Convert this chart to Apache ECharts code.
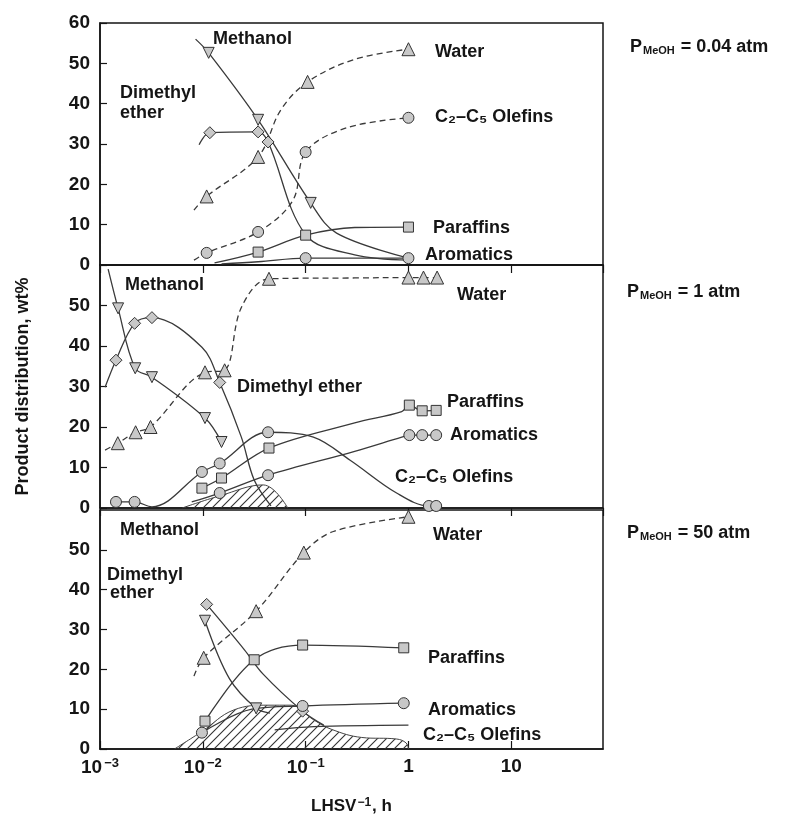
<!DOCTYPE html>
<html><head><meta charset="utf-8">
<script src="https://cdn.jsdelivr.net/npm/echarts@6/dist/echarts.min.js"></script>
<style>html,body{margin:0;padding:0;background:#fff}#c{width:792px;height:816px}</style>
</head><body><div id="c"></div>
<script>
// ---------- data (x = LHSV^-1 in h, y = wt%, third value 1 = plotted marker) ----------
const xTicks = [0.001, 0.01, 0.1, 1, 10];
const yTicks = [0, 10, 20, 30, 40, 50, 60];
const panelTitles = ['0.04 atm', '1 atm', '50 atm'];

// Panel 1: P = 0.04 atm
const p1Methanol = [[0.0085,56,0],[0.0114,52.6,1],[0.0345,36,1],[0.112,15.4,1],[0.2,7.9,0],[1.0,1.7,0]];
const p1DME      = [[0.0092,29.8,0],[0.0117,32.8,1],[0.0345,33,1],[0.0431,30.5,1],[0.1,7.5,0],[0.3,2.5,0],[1.0,1.2,0]];
const p1Water    = [[0.0082,13.6,0],[0.0109,17,1],[0.0345,26.8,1],[0.0575,38.5,0],[0.1045,45.4,1],[0.3,51,0],[1.0,53.5,1]];
const p1Olefins  = [[0.0082,1.2,0],[0.0109,3,1],[0.0345,8.2,1],[0.075,16,0],[0.1,28,1],[0.25,34,0],[1.0,36.5,1]];
const p1Paraffins= [[0.013,0.5,0],[0.0345,3.2,1],[0.1,7.4,1],[0.3,9.3,0],[1.0,9.4,1]];
const p1Aromatics= [[0.0152,0.3,0],[0.0345,0.8,0],[0.1,1.7,1],[1.0,1.7,1]];

// Panel 2: P = 1 atm
const p2Methanol = [[0.0012,59,0],[0.0015,49.3,1],[0.0022,34.5,1],[0.0032,32.3,1],[0.0105,22.2,1],[0.0152,16.3,1]];
const p2DME      = [[0.00112,29.8,0],[0.00143,36.5,1],[0.00217,45.6,1],[0.0032,47,1],[0.0098,39.7,0],[0.0146,31,1],[0.0237,17.5,0],[0.0316,6.9,0],[0.046,0.5,0]];
const p2Water    = [[0.00112,14.3,0],[0.00149,16,1],[0.00222,18.7,1],[0.0031,20,1],[0.0105,33.5,1],[0.0163,34,1],[0.0237,49.5,0],[0.044,56.6,1],[0.3,56.8,0],[1.0,56.9,1],[1.4,56.9,1],[1.9,56.9,1]];
const p2Olefins  = [[0.00143,1.5,1],[0.00217,1.5,1],[0.0032,0.3,0],[0.0098,8.9,1],[0.0146,11,1],[0.0431,18.7,1],[0.119,17.5,0],[0.271,11.8,0],[0.767,3.7,0],[1.58,0.5,1],[1.86,0.5,1]];
const p2Paraffins= [[0.0098,4.9,1],[0.0152,7.4,1],[0.044,14.8,1],[0.3,21,0],[0.86,23.8,0],[1.02,25.4,1],[1.36,24,1],[1.86,24.1,1]];
const p2Aromatics= [[0.0078,1.5,0],[0.0146,3.7,1],[0.0431,8.1,1],[0.3,14,0],[0.86,17.5,0],[1.02,18,1],[1.36,18,1],[1.86,18,1]];
const p2Hatch    = [[0.0063,0],[0.0146,3],[0.0386,5.7],[0.067,0]];

// Panel 3: P = 50 atm
const p3Methanol = [[0.0105,32.2,1],[0.0182,17.6,0],[0.033,10.2,1],[0.045,9,0]];
const p3DME      = [[0.0109,36.3,1],[0.0254,24.9,0],[0.0386,18.8,0],[0.0935,9.5,1],[0.15,6,0]];
const p3Water    = [[0.0082,18.3,0],[0.0102,22.9,1],[0.033,34.6,1],[0.096,49.3,1],[0.186,54.6,0],[1.0,58.3,1]];
const p3Olefins  = [[0.05,4.8,0],[0.12,5.6,0],[1.0,6,0]];
const p3Paraffins= [[0.0105,7,1],[0.0316,22.4,1],[0.0935,26.1,1],[0.9,25.4,1]];
const p3Aromatics= [[0.0098,4.1,1],[0.03,10,0],[0.0935,10.8,1],[0.9,11.5,1]];
const p3Hatch    = [[0.0053,0],[0.0098,4.4],[0.02,9.8],[0.043,11],[0.072,11],[0.12,7.3],[0.18,4.9],[0.35,2.9],[0.77,2.5],[0.95,1.5],[1.0,0]];

// ---------- chart ----------
const FONT = '"Liberation Sans", Arial, Helvetica, sans-serif';
const INK = '#151515';

function hatchPattern() {
  const c = document.createElement('canvas');
  c.width = 9; c.height = 9;
  const g = c.getContext('2d');
  g.strokeStyle = '#333'; g.lineWidth = 1.1;
  g.beginPath();
  g.moveTo(0, 9); g.lineTo(9, 0);
  g.moveTo(-2, 2); g.lineTo(2, -2);
  g.moveTo(7, 11); g.lineTo(11, 7);
  g.stroke();
  return c;
}
const pattern = hatchPattern();

function mk(data, gi, sym, rot, dashed, size) {
  return {
    type: 'line', xAxisIndex: gi, yAxisIndex: gi, smooth: 0.35,
    data: data.map(d => ({ value: [d[0], d[1]], symbol: d[2] ? sym : 'none' })),
    symbol: sym, symbolSize: size || 11, symbolRotate: rot || 0,
    lineStyle: { color: '#3a3a3a', width: 1.3, type: dashed ? [6, 4] : 'solid' },
    itemStyle: { color: '#c8c8c8', borderColor: '#333', borderWidth: 1 },
    z: 3, animation: false, silent: true
  };
}
function hatch(data, gi) {
  return {
    type: 'line', xAxisIndex: gi, yAxisIndex: gi, smooth: 0.4, symbol: 'none',
    data: data, lineStyle: { color: '#444', width: 1 },
    areaStyle: { color: { image: pattern, repeat: 'repeat' }, opacity: 1 },
    z: 2, animation: false, silent: true
  };
}

const panels = [
  [p1Methanol, p1DME, p1Water, p1Olefins, p1Paraffins, p1Aromatics, null],
  [p2Methanol, p2DME, p2Water, p2Olefins, p2Paraffins, p2Aromatics, p2Hatch],
  [p3Methanol, p3DME, p3Water, p3Olefins, p3Paraffins, p3Aromatics, p3Hatch]
];

const series = [];
panels.forEach((p, i) => {
  if (p[6]) series.push(hatch(p[6], i));
  series.push(mk(p[0], i, 'triangle', 180, false));
  series.push(mk(p[1], i, 'diamond', 0, false, 12));
  series.push(mk(p[2], i, 'triangle', 0, true, 13));
  series.push(mk(p[3], i, 'circle', 0, i === 0, 11));
  series.push(mk(p[4], i, 'rect', 0, false, 10));
  series.push(mk(p[5], i, 'circle', 0, false, 11));
});

const grids = [
  { left: 100, width: 503, top: 23, height: 242 },
  { left: 100, width: 503, top: 265, height: 243 },
  { left: 100, width: 503, top: 510, height: 247 }
].map(g => Object.assign(g, { show: true, borderColor: INK, borderWidth: 1.5, backgroundColor: 'transparent', containLabel: false }));

const xAxes = grids.map((g, i) => ({
  type: 'log', logBase: 10, gridIndex: i, min: xTicks[0], max: 78,
  axisLine: { show: true, lineStyle: { color: INK, width: 1.5 } },
  axisTick: { show: true, inside: i === 2, length: 8, lineStyle: { color: INK, width: 1.2 } },
  splitLine: { show: false }, minorTick: { show: false },
  axisLabel: {
    show: i === 2, margin: 8, showMaxLabel: false, color: INK,
    fontFamily: FONT, fontWeight: 'bold', fontSize: 19,
    formatter: v => {
      const e = Math.round(Math.log10(v));
      if (Math.abs(Math.log10(v) - e) > 1e-6 || xTicks.indexOf(Math.pow(10, e)) < 0) return '';
      if (e === 0) return '1';
      if (e === 1) return '10';
      return '10{s|\u2212' + (-e) + '}';
    },
    rich: { s: { fontSize: 13, fontWeight: 'bold', fontFamily: FONT, color: INK, verticalAlign: 'top', padding: [0, 0, 8, 2] } }
  },
  name: i === 2 ? 'LHSV{s|\u22121}, h' : '',
  nameLocation: 'middle', nameGap: 48,
  nameTextStyle: {
    fontFamily: FONT, fontWeight: 'bold', fontSize: 17, color: INK,
    rich: { s: { fontSize: 12, fontWeight: 'bold', fontFamily: FONT, color: INK, verticalAlign: 'top', padding: [0, 1, 7, 1] } }
  }
}));

const yAxes = grids.map((g, i) => ({
  type: 'value', gridIndex: i, min: yTicks[0], max: yTicks[yTicks.length - 1], interval: 10,
  axisLine: { show: true, lineStyle: { color: INK, width: 1.5 } },
  axisTick: { show: true, inside: true, length: 7, lineStyle: { color: INK, width: 1.2 } },
  splitLine: { show: false },
  axisLabel: { showMaxLabel: i === 0, margin: 10, color: INK, fontFamily: FONT, fontWeight: 'bold', fontSize: 19 },
  name: i === 1 ? 'Product distribution, wt%' : '',
  nameLocation: 'middle', nameGap: 68, nameRotate: 90,
  nameTextStyle: { fontFamily: FONT, fontWeight: 'bold', fontSize: 18, color: INK }
}));

function txt(x, y, text, size) {
  return { type: 'text', x: x, y: y, silent: true, z: 10,
    style: { text: text, fill: INK, font: 'bold ' + (size || 18) + 'px ' + FONT, textVerticalAlign: 'middle', textAlign: 'left' } };
}
function ptxt(x, y, val) {
  return { type: 'text', x: x, y: y, silent: true, z: 10,
    style: { text: 'P{s|MeOH} = ' + val, fill: INK, font: 'bold 18px ' + FONT, textVerticalAlign: 'middle',
      rich: { s: { fontSize: 11, fontWeight: 'bold', fontFamily: FONT, fill: INK, verticalAlign: 'bottom', padding: [6, 1, 0, 1] } } } };
}
const OLE = 'C\u2082\u2013C\u2085 Olefins';
const graphic = [
  txt(213, 39, 'Methanol'), txt(120, 93, 'Dimethyl'), txt(120, 113, 'ether'),
  txt(435, 52, 'Water'), txt(435, 117, OLE), txt(433, 228, 'Paraffins'), txt(425, 255, 'Aromatics'),
  ptxt(630, 47, panelTitles[0]),
  txt(125, 285, 'Methanol'), txt(457, 295, 'Water'), txt(237, 387, 'Dimethyl ether'),
  txt(447, 402, 'Paraffins'), txt(450, 435, 'Aromatics'), txt(395, 477, OLE),
  ptxt(627, 292, panelTitles[1]),
  txt(120, 530, 'Methanol'), txt(107, 575, 'Dimethyl'), txt(110, 593, 'ether'),
  txt(433, 535, 'Water'), txt(428, 658, 'Paraffins'), txt(428, 710, 'Aromatics'), txt(423, 735, OLE),
  ptxt(627, 533, panelTitles[2])
];

const chart = echarts.init(document.getElementById('c'), null, { renderer: 'canvas' });
chart.setOption({
  animation: false, backgroundColor: '#fff',
  grid: grids, xAxis: xAxes, yAxis: yAxes, series: series, graphic: graphic
});
</script>
</body></html>
